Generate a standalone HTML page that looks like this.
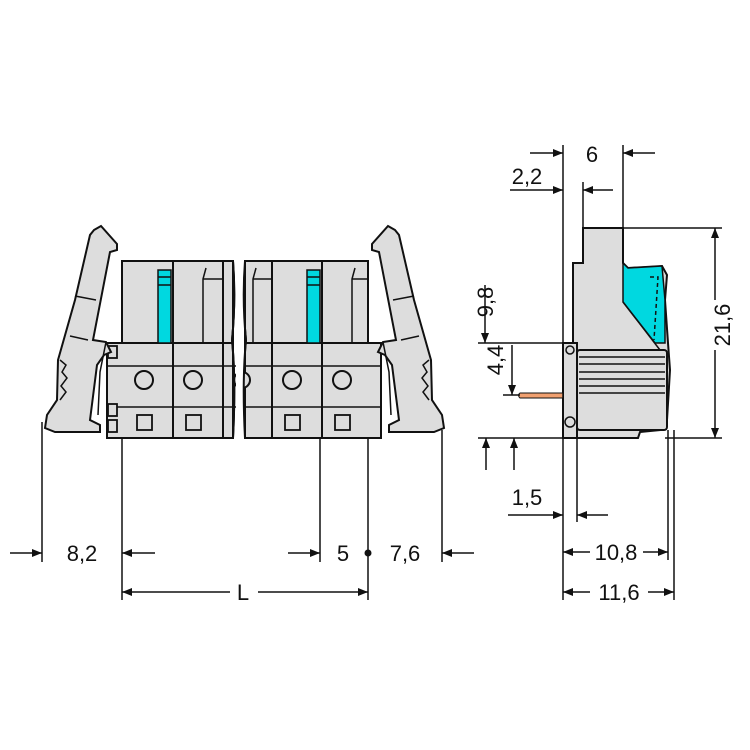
<!DOCTYPE html>
<html><head><meta charset="utf-8"><style>
body{margin:0;background:#fff}
svg{display:block}
text{font-family:"Liberation Sans Narrow","Liberation Sans",sans-serif;font-size:22px;fill:#111}
</style></head><body>
<svg width="750" height="750" viewBox="0 0 750 750" xmlns="http://www.w3.org/2000/svg">
<defs>
<marker id="a" markerWidth="10" markerHeight="8" refX="10" refY="4" orient="auto" markerUnits="userSpaceOnUse"><path d="M0,0 L10,4 L0,8z" fill="#111"/></marker>
<g id="latch">
<path d="M94,230 L101,226 L117,244 L117,250 L110,252 L93,340 L106,342 L111,352 L104,355 L97,365 L90,420 L100,425 L100,432 L55,432 L45,428 L47,415 L57,400 L58,360 L75,300 L90,235Z" fill="#ddd" stroke="#111" stroke-width="2"/>
<path d="M96,300 L75,296 M88,340 L70,336 M60,360 L66,365 L62,372 L67,378 L61,386 L66,392 L60,400" fill="none" stroke="#111" stroke-width="1.5"/>
<path d="M106,342 L100,372 L98,415" fill="none" stroke="#111" stroke-width="1.5"/>
</g>
</defs>
<g stroke="#111" stroke-width="1.5" fill="none">
<!-- left view body -->
<rect x="107" y="343" width="126" height="95" fill="#ddd" stroke-width="2"/>
<rect x="122" y="261" width="111" height="82" fill="#ddd" stroke-width="2"/>
<rect x="245" y="343" width="136" height="95" fill="#ddd" stroke-width="2"/>
<rect x="245" y="261" width="123" height="82" fill="#ddd" stroke-width="2"/>
<rect x="236" y="255" width="8" height="190" fill="#fff" stroke="none"/>
<path d="M233,261 Q236,300 232,340 Q236,380 233,438 M245,261 Q242,300 246,340 Q242,380 245,438" stroke-width="2"/>
<line x1="107" y1="366" x2="381" y2="366"/><line x1="107" y1="407" x2="381" y2="407"/>
<line x1="122" y1="343" x2="233" y2="343" stroke-width="2"/><line x1="245" y1="343" x2="368" y2="343" stroke-width="2"/>
<g stroke-width="2"><line x1="173" y1="261" x2="173" y2="438"/><line x1="223" y1="261" x2="223" y2="438"/><line x1="272" y1="261" x2="272" y2="438"/><line x1="322" y1="261" x2="322" y2="438"/></g>
<path d="M203,343 V279 L206,268 M203,279 H223 M352,343 V279 L355,268 M352,279 H368 M253,343 V279 L256,268 M253,279 H272"/>
<rect x="158" y="270" width="13" height="73" fill="#00d8e0"/><rect x="307" y="270" width="13" height="73" fill="#00d8e0"/>
<path d="M158,277 H171 M158,285 H171 M307,277 H320 M307,285 H320"/>
<g fill="#ddd" stroke-width="2"><circle cx="144" cy="380" r="9"/><circle cx="193" cy="380" r="9"/><circle cx="242" cy="380" r="8"/><circle cx="292" cy="380" r="9"/><circle cx="342" cy="380" r="9"/></g>
<g fill="#ddd" stroke-width="1.8"><rect x="137" y="415" width="15" height="15"/><rect x="186" y="415" width="15" height="15"/><rect x="285" y="415" width="15" height="15"/><rect x="335" y="415" width="15" height="15"/>
<rect x="108" y="346" width="9" height="12"/><rect x="108" y="404" width="9" height="12"/><rect x="108" y="420" width="9" height="12"/></g>
</g>
<rect x="236" y="255" width="8" height="190" fill="#fff"/>
<path d="M233,261 Q236,300 232,340 Q236,380 233,438 M245,261 Q242,300 246,340 Q242,380 245,438" stroke="#111" stroke-width="2" fill="none"/>
<use href="#latch"/>
<use href="#latch" transform="translate(489,0) scale(-1,1)"/>

<!-- side view -->
<g stroke="#111" fill="none" stroke-width="1.5">
<path d="M573,263 H583 V228 H623 V263 L628,268 L662,266 L667,275 L665,300 L668,343 L670,370 L667,420 L660,430 L640,432 L638,438 L577,438 V350 L573,345Z" fill="#ddd" stroke-width="2"/>
<path d="M628,268 L662,266 L665,300 L665,343 L655,343 L623,302 V263Z" fill="#00d8e0"/>
<path d="M623,302 L660,350" />
<path d="M650,277 L658,277 L654,340" stroke-dasharray="4,3"/>
<rect x="563" y="343" width="14" height="95" fill="#ddd" stroke-width="2"/>
<rect x="577" y="350" width="90" height="80" rx="3" fill="#ddd" stroke-width="2"/>
<path d="M579,357 H665 M579,364 H665 M579,372 H665 M579,379 H665 M579,386 H665 M579,393 H665" />
<circle cx="570" cy="422" r="5" fill="#ddd"/><circle cx="570" cy="350" r="4" fill="#ddd"/>
<path d="M520,393 H563 V398 H520 Q517,395 520,393Z" fill="#f0a070" stroke-width="1"/>
<!-- extension lines -->
<line x1="563" y1="145" x2="563" y2="600"/>
<line x1="583" y1="182" x2="583" y2="228"/>
<line x1="623" y1="145" x2="623" y2="228"/>
<line x1="623" y1="228" x2="722" y2="228"/>
<line x1="665" y1="438" x2="722" y2="438"/>
<line x1="478" y1="438" x2="577" y2="438"/>
<line x1="478" y1="343" x2="577" y2="343"/>
<line x1="503" y1="395" x2="520" y2="395"/>
<line x1="577" y1="438" x2="577" y2="522"/>
<line x1="668" y1="430" x2="668" y2="560"/>
<line x1="674" y1="430" x2="674" y2="600"/>
<!-- dims -->
<line x1="530" y1="153" x2="563" y2="153" marker-end="url(#a)"/>
<line x1="655" y1="153" x2="623" y2="153" marker-end="url(#a)"/>
<line x1="510" y1="190" x2="563" y2="190" marker-end="url(#a)"/>
<line x1="613" y1="190" x2="583" y2="190" marker-end="url(#a)"/>
<line x1="715" y1="300" x2="715" y2="228" marker-end="url(#a)"/>
<line x1="715" y1="350" x2="715" y2="438" marker-end="url(#a)"/>
<line x1="485" y1="285" x2="485" y2="343" marker-end="url(#a)"/>
<line x1="512" y1="345" x2="512" y2="395" marker-end="url(#a)"/>
<line x1="486" y1="470" x2="486" y2="438" marker-end="url(#a)"/>
<line x1="514" y1="470" x2="514" y2="438" marker-end="url(#a)"/>
<line x1="508" y1="515" x2="563" y2="515" marker-end="url(#a)"/>
<line x1="608" y1="515" x2="577" y2="515" marker-end="url(#a)"/>
<line x1="590" y1="552" x2="563" y2="552" marker-end="url(#a)"/>
<line x1="643" y1="552" x2="668" y2="552" marker-end="url(#a)"/>
<line x1="590" y1="592" x2="563" y2="592" marker-end="url(#a)"/>
<line x1="648" y1="592" x2="674" y2="592" marker-end="url(#a)"/>
<!-- left dims -->
<line x1="42" y1="422" x2="42" y2="562"/>
<line x1="122" y1="438" x2="122" y2="600"/>
<line x1="320" y1="438" x2="320" y2="562"/>
<line x1="368" y1="438" x2="368" y2="600"/>
<line x1="442" y1="430" x2="442" y2="562"/>
<line x1="10" y1="553" x2="42" y2="553" marker-end="url(#a)"/>
<line x1="155" y1="553" x2="122" y2="553" marker-end="url(#a)"/>
<line x1="288" y1="553" x2="320" y2="553" marker-end="url(#a)"/>
<line x1="474" y1="553" x2="442" y2="553" marker-end="url(#a)"/>
<line x1="230" y1="592" x2="122" y2="592" marker-end="url(#a)"/>
<line x1="258" y1="592" x2="368" y2="592" marker-end="url(#a)"/>
</g>
<circle cx="368" cy="553" r="3.5" fill="#111"/>
<text x="82" y="561" text-anchor="middle">8,2</text>
<text x="343" y="561" text-anchor="middle">5</text>
<text x="405" y="561" text-anchor="middle">7,6</text>
<text x="243" y="600" text-anchor="middle">L</text>
<text x="592" y="162" text-anchor="middle">6</text>
<text x="527" y="184" text-anchor="middle">2,2</text>
<text x="527" y="505" text-anchor="middle">1,5</text>
<text x="616" y="560" text-anchor="middle">10,8</text>
<text x="619" y="600" text-anchor="middle">11,6</text>
<text transform="translate(730,325) rotate(-90)" text-anchor="middle">21,6</text>
<text transform="translate(493,302) rotate(-90)" text-anchor="middle">9,8</text>
<text transform="translate(503,360) rotate(-90)" text-anchor="middle">4,4</text>
</svg>
</body></html>
